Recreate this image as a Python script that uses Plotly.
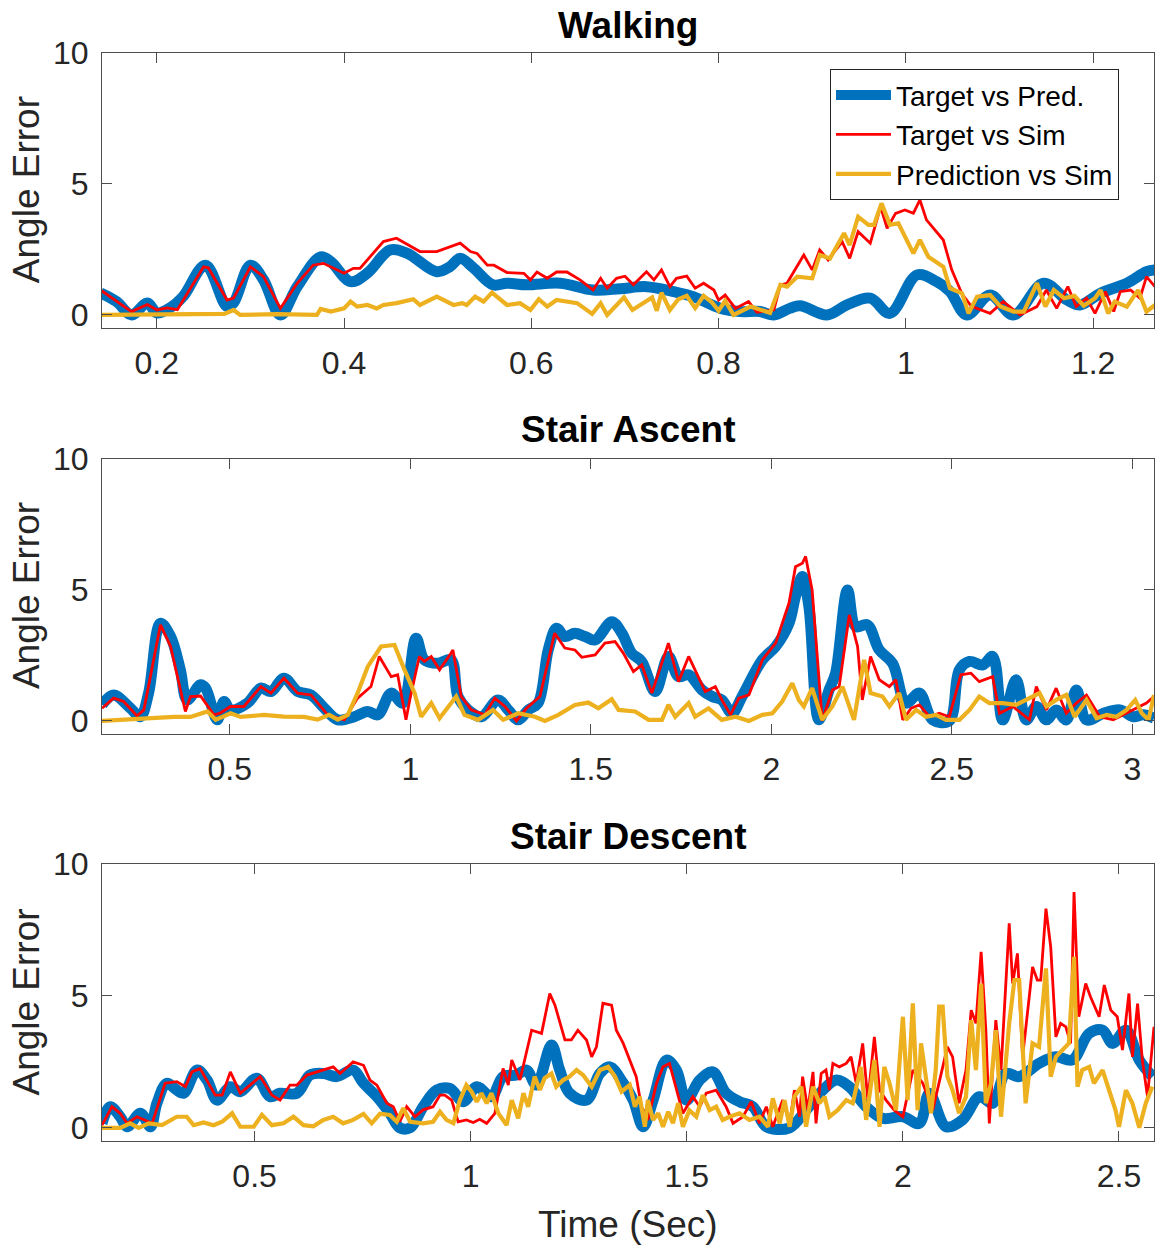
import plotly.graph_objects as go
from plotly.subplots import make_subplots

# ---------------- DATA (time sec, angle error) ----------------
walk_target_pred = [(0.140,0.84),(0.157,0.51),(0.173,0.0),(0.190,0.46),(0.200,0.08),(0.214,0.27),(0.228,0.70),(0.252,1.90),(0.275,0.32),(0.282,0.46),(0.300,1.90),(0.314,1.34),(0.332,0.0),(0.350,1.08),(0.375,2.22),(0.386,2.03),(0.407,1.27),(0.425,1.60),(0.449,2.48),(0.467,2.36),(0.499,1.65),(0.513,1.84),(0.524,2.16),(0.538,1.80),(0.559,1.15),(0.574,1.21),(0.595,1.15),(0.631,1.21),(0.666,0.95),(0.695,1.00),(0.723,1.08),(0.752,0.89),(0.773,0.70),(0.802,0.25),(0.823,0.13),(0.844,0.13),(0.859,0.0),(0.876,0.25),(0.887,0.35),(0.916,0.0),(0.937,0.38),(0.962,0.64),(0.983,0.06),(1.012,1.53),(1.033,1.27),(1.047,0.90),(1.065,0.0),(1.090,0.76),(1.115,0.0),(1.147,1.21),(1.172,0.57),(1.186,0.38),(1.208,0.83),(1.236,1.21),(1.257,1.65),(1.266,1.72)]

walk_target_sim = [(0.140,0.95),(0.173,0.13),(0.190,0.40),(0.200,0.19),(0.211,0.27),(0.222,0.20),(0.250,1.84),(0.255,1.80),(0.275,0.57),(0.282,0.64),(0.300,1.84),(0.314,1.46),(0.332,0.25),(0.350,1.21),(0.367,1.90),(0.378,1.97),(0.400,1.59),(0.410,1.78),(0.417,1.78),(0.442,2.80),(0.456,2.93),(0.481,2.42),(0.499,2.42),(0.524,2.74),(0.535,2.42),(0.542,2.35),(0.553,1.90),(0.560,1.90),(0.574,1.62),(0.592,1.59),(0.599,1.34),(0.606,1.64),(0.617,1.40),(0.627,1.64),(0.638,1.64),(0.652,1.34),(0.666,0.95),(0.674,1.40),(0.681,1.02),(0.691,1.40),(0.700,1.48),(0.709,1.15),(0.723,1.65),(0.731,1.34),(0.739,1.72),(0.748,1.08),(0.755,1.40),(0.766,1.48),(0.775,1.02),(0.784,1.21),(0.795,0.95),(0.800,0.57),(0.807,0.76),(0.818,0.25),(0.832,0.51),(0.841,0.10),(0.859,0.19),(0.866,1.15),(0.873,1.21),(0.891,2.29),(0.900,1.72),(0.908,2.48),(0.917,2.10),(0.932,2.80),(0.940,2.16),(0.949,3.18),(0.962,2.74),(0.973,4.13),(0.980,3.31),(0.989,3.88),(0.999,4.01),(1.008,3.88),(1.015,4.39),(1.022,3.63),(1.040,2.86),(1.049,1.72),(1.060,0.80),(1.070,0.33),(1.090,0.06),(1.104,0.51),(1.122,0.00),(1.140,0.32),(1.150,0.95),(1.161,0.25),(1.173,1.08),(1.182,0.32),(1.193,0.64),(1.202,0.06),(1.213,0.89),(1.222,0.13),(1.229,0.89),(1.240,0.95),(1.250,0.64),(1.257,1.46),(1.266,1.08)]

walk_pred_sim = [(0.140,0.0),(0.200,0.02),(0.272,0.04),(0.282,0.19),(0.289,0.0),(0.328,0.03),(0.371,0.0),(0.375,0.23),(0.386,0.13),(0.400,0.25),(0.407,0.51),(0.414,0.32),(0.425,0.38),(0.435,0.25),(0.442,0.38),(0.456,0.45),(0.474,0.60),(0.481,0.38),(0.499,0.70),(0.513,0.45),(0.517,0.38),(0.526,0.45),(0.531,0.38),(0.540,0.70),(0.549,0.51),(0.558,0.85),(0.574,0.38),(0.588,0.45),(0.599,0.19),(0.608,0.60),(0.617,0.32),(0.627,0.57),(0.649,0.45),(0.665,0.04),(0.674,0.45),(0.681,0.0),(0.699,0.67),(0.708,0.19),(0.720,0.48),(0.729,0.67),(0.734,0.16),(0.739,0.85),(0.748,0.19),(0.757,0.60),(0.766,0.73),(0.775,0.26),(0.784,0.73),(0.793,0.48),(0.800,0.16),(0.807,0.54),(0.816,0.0),(0.834,0.32),(0.855,0.08),(0.866,1.15),(0.873,1.08),(0.884,1.46),(0.900,1.40),(0.908,2.29),(0.919,2.16),(0.934,3.12),(0.940,2.67),(0.949,3.75),(0.960,3.44),(0.966,3.44),(0.974,4.26),(0.983,3.44),(0.992,3.50),(1.008,2.35),(1.015,2.86),(1.024,2.22),(1.040,1.84),(1.047,1.02),(1.060,0.83),(1.067,0.06),(1.076,0.70),(1.090,0.76),(1.101,0.32),(1.115,0.13),(1.126,0.13),(1.140,1.21),(1.149,0.32),(1.158,0.95),(1.169,0.64),(1.180,0.73),(1.190,0.35),(1.202,0.64),(1.208,0.95),(1.216,0.06),(1.223,0.51),(1.236,0.32),(1.248,0.95),(1.257,0.13),(1.266,0.38)]

asc_target_pred = [(0.146,0.62),(0.178,0.99),(0.225,0.48),(0.252,0.16),(0.275,1.06),(0.308,3.73),(0.336,3.22),(0.363,1.95),(0.382,0.80),(0.419,1.38),(0.433,1.25),(0.465,0.04),(0.484,0.74),(0.502,0.42),(0.549,0.68),(0.586,1.25),(0.614,1.12),(0.650,1.63),(0.688,1.12),(0.725,0.99),(0.762,0.48),(0.799,0.04),(0.845,0.16),(0.882,0.36),(0.910,0.23),(0.947,1.06),(0.979,0.68),(1.016,3.16),(1.039,2.33),(1.077,2.20),(1.113,2.33),(1.132,0.93),(1.160,0.42),(1.197,0.16),(1.243,0.80),(1.271,0.42),(1.299,0.04),(1.327,0.42),(1.354,0.68),(1.382,2.71),(1.405,3.54),(1.428,3.22),(1.456,3.35),(1.484,3.22),(1.512,3.09),(1.558,3.79),(1.586,3.35),(1.613,2.59),(1.641,2.27),(1.678,1.12),(1.715,2.46),(1.743,1.69),(1.771,1.76),(1.808,1.18),(1.836,0.93),(1.863,0.80),(1.891,0.29),(1.919,0.93),(1.975,2.33),(2.012,2.84),(2.049,3.73),(2.067,4.75),(2.086,5.51),(2.104,4.37),(2.132,0.04),(2.160,1.18),(2.178,1.82),(2.211,5.00),(2.234,3.60),(2.266,3.67),(2.299,2.71),(2.336,2.20),(2.373,0.68),(2.410,1.06),(2.447,0.04),(2.493,0.0),(2.521,1.95),(2.549,2.27),(2.586,2.14),(2.613,2.46),(2.641,0.04),(2.678,1.57),(2.706,0.04),(2.734,0.55),(2.762,0.04),(2.789,0.42),(2.817,0.04),(2.845,1.18),(2.873,0.04),(2.920,0.29),(2.966,0.42),(3.003,0.16),(3.030,0.23),(3.060,0.10)]

asc_target_sim = [(0.146,0.48),(0.178,0.87),(0.206,0.74),(0.243,0.19),(0.262,0.42),(0.308,3.67),(0.336,2.84),(0.377,0.36),(0.391,0.93),(0.419,0.95),(0.456,0.23),(0.474,0.30),(0.502,0.55),(0.539,0.55),(0.586,1.31),(0.614,1.06),(0.650,1.63),(0.688,1.06),(0.725,0.99),(0.771,0.23),(0.817,0.04),(0.854,0.87),(0.891,1.31),(0.914,2.46),(0.947,1.69),(0.965,1.76),(0.988,0.04),(1.000,0.90),(1.025,2.46),(1.039,2.27),(1.058,2.46),(1.081,1.95),(1.113,2.59),(1.118,2.71),(1.141,0.93),(1.169,0.42),(1.206,0.23),(1.234,0.87),(1.262,0.55),(1.294,0.0),(1.322,0.48),(1.359,0.93),(1.400,3.35),(1.428,2.78),(1.456,2.71),(1.475,2.43),(1.512,2.52),(1.539,2.97),(1.567,3.03),(1.590,2.59),(1.618,1.88),(1.641,2.14),(1.669,1.06),(1.715,2.97),(1.743,1.50),(1.771,2.46),(1.817,1.12),(1.845,1.31),(1.863,0.80),(1.887,0.23),(1.910,0.87),(1.938,0.99),(1.975,2.33),(2.012,2.97),(2.049,4.50),(2.067,5.89),(2.086,6.02),(2.095,6.28),(2.113,5.00),(2.141,0.0),(2.169,1.18),(2.188,1.31),(2.216,4.05),(2.239,2.84),(2.252,0.80),(2.275,2.46),(2.299,1.57),(2.327,1.31),(2.345,1.57),(2.364,0.04),(2.387,0.48),(2.410,0.61),(2.438,0.16),(2.465,0.29),(2.493,0.16),(2.525,1.76),(2.553,1.82),(2.576,1.50),(2.613,1.69),(2.632,0.29),(2.669,0.55),(2.715,0.04),(2.734,1.31),(2.762,0.42),(2.789,1.25),(2.817,0.29),(2.845,0.68),(2.873,0.99),(2.910,0.16),(2.947,0.04),(2.975,0.23),(3.003,0.42),(3.039,0.68),(3.060,0.93)]

asc_pred_sim = [(0.146,0.0),(0.206,0.05),(0.299,0.10),(0.345,0.15),(0.391,0.15),(0.438,0.36),(0.461,0.04),(0.502,0.29),(0.530,0.15),(0.595,0.23),(0.650,0.16),(0.706,0.15),(0.743,0.05),(0.775,0.23),(0.799,0.05),(0.827,0.23),(0.854,1.06),(0.882,2.07),(0.919,2.84),(0.956,2.90),(0.984,1.95),(1.012,1.06),(1.030,0.16),(1.058,0.68),(1.081,0.10),(1.109,0.61),(1.127,0.93),(1.150,0.23),(1.188,0.04),(1.229,0.42),(1.257,0.04),(1.299,0.29),(1.345,0.16),(1.373,0.0),(1.410,0.23),(1.456,0.61),(1.493,0.70),(1.521,0.48),(1.558,0.83),(1.577,0.42),(1.623,0.36),(1.660,0.04),(1.697,0.04),(1.715,0.61),(1.734,0.16),(1.771,0.68),(1.789,0.16),(1.826,0.48),(1.863,0.04),(1.901,0.16),(1.938,0.0),(1.975,0.23),(2.003,0.29),(2.030,0.74),(2.058,1.44),(2.076,0.80),(2.090,0.55),(2.113,1.25),(2.141,0.04),(2.169,0.55),(2.197,1.31),(2.229,0.04),(2.257,2.33),(2.275,1.06),(2.308,0.93),(2.327,0.55),(2.354,1.06),(2.373,0.04),(2.401,0.42),(2.428,0.16),(2.456,0.23),(2.484,0.04),(2.521,0.04),(2.549,0.42),(2.576,0.93),(2.604,0.68),(2.641,0.68),(2.678,0.61),(2.715,0.87),(2.743,1.06),(2.762,0.55),(2.789,0.80),(2.817,0.99),(2.840,0.16),(2.873,0.80),(2.901,0.10),(2.929,0.23),(2.956,0.16),(2.984,0.42),(3.008,0.80),(3.026,0.29),(3.045,0.04),(3.060,0.99)]

desc_target_pred = [(0.147,0.17),(0.166,0.80),(0.189,0.42),(0.205,0.04),(0.236,0.55),(0.259,0.04),(0.274,0.93),(0.297,1.69),(0.320,1.43),(0.336,1.31),(0.367,2.19),(0.390,1.81),(0.413,1.05),(0.444,1.56),(0.467,1.37),(0.505,1.88),(0.536,1.18),(0.559,1.31),(0.598,1.31),(0.628,2.00),(0.659,2.06),(0.690,1.94),(0.728,2.19),(0.752,1.69),(0.783,1.18),(0.813,0.55),(0.836,0.0),(0.860,0.0),(0.890,0.80),(0.921,1.43),(0.952,1.49),(0.983,0.99),(1.014,1.56),(1.048,1.18),(1.075,1.94),(1.106,2.00),(1.129,2.19),(1.152,1.62),(1.187,3.14),(1.206,2.19),(1.229,1.31),(1.268,1.05),(1.299,2.06),(1.322,2.31),(1.353,1.69),(1.376,1.05),(1.399,0.04),(1.422,1.05),(1.453,2.57),(1.476,2.19),(1.499,1.05),(1.530,1.81),(1.560,2.12),(1.591,1.31),(1.622,0.99),(1.653,0.80),(1.684,0.04),(1.738,0.0),(1.776,0.67),(1.815,1.43),(1.846,1.81),(1.876,1.56),(1.915,0.80),(1.953,0.36),(2.000,0.42),(2.038,0.17),(2.061,1.31),(2.100,0.04),(2.138,0.30),(2.177,1.18),(2.208,0.93),(2.238,2.06),(2.269,1.94),(2.315,2.44),(2.354,2.69),(2.392,2.57),(2.431,3.58),(2.462,3.70),(2.485,3.20),(2.516,3.70),(2.547,2.57),(2.578,1.94)]

desc_target_sim = [(0.147,0.10),(0.170,0.80),(0.189,0.55),(0.205,0.17),(0.228,0.42),(0.247,0.30),(0.263,0.17),(0.293,1.69),(0.320,1.75),(0.340,1.56),(0.355,2.12),(0.374,2.25),(0.409,1.24),(0.425,1.24),(0.444,2.12),(0.467,1.31),(0.513,1.94),(0.540,1.24),(0.559,1.05),(0.582,1.62),(0.598,1.62),(0.621,2.00),(0.659,2.19),(0.682,2.31),(0.698,2.06),(0.728,2.50),(0.752,2.37),(0.767,1.81),(0.783,1.62),(0.806,0.93),(0.821,0.80),(0.836,0.23),(0.852,0.80),(0.871,0.42),(0.890,0.68),(0.913,0.80),(0.929,1.24),(0.940,1.24),(0.956,1.05),(0.971,0.23),(0.990,0.30),(1.006,0.20),(1.021,0.32),(1.037,0.17),(1.056,0.55),(1.075,2.25),(1.087,1.62),(1.095,2.57),(1.114,1.81),(1.141,3.70),(1.164,3.58),(1.183,5.09),(1.195,4.65),(1.218,3.33),(1.233,3.33),(1.248,3.70),(1.268,3.33),(1.280,2.69),(1.291,3.07),(1.306,4.72),(1.326,4.65),(1.337,3.70),(1.353,3.20),(1.368,2.57),(1.383,1.94),(1.395,0.80),(1.410,0.30),(1.430,1.69),(1.445,2.31),(1.460,2.44),(1.472,1.69),(1.491,0.55),(1.514,1.18),(1.530,0.80),(1.545,1.31),(1.568,1.43),(1.591,0.80),(1.607,0.17),(1.630,0.42),(1.649,0.99),(1.668,0.17),(1.684,0.80),(1.699,0.04),(1.722,1.05),(1.738,0.17),(1.749,1.43),(1.761,0.42),(1.768,1.94),(1.780,0.67),(1.792,2.12),(1.799,0.17),(1.811,2.06),(1.822,2.19),(1.830,1.43),(1.838,2.44),(1.853,2.31),(1.869,2.44),(1.880,2.69),(1.892,1.69),(1.907,3.20),(1.919,1.05),(1.934,3.45),(1.946,1.43),(1.961,1.05),(1.980,0.67),(2.000,0.42),(2.023,2.19),(2.046,1.69),(2.069,0.67),(2.084,1.69),(2.103,3.07),(2.115,2.69),(2.130,0.93),(2.146,2.19),(2.158,4.46),(2.169,3.96),(2.181,6.67),(2.192,3.70),(2.200,0.17),(2.215,4.08),(2.227,2.19),(2.246,7.75),(2.254,5.47),(2.265,6.61),(2.277,2.69),(2.300,6.10),(2.311,5.60),(2.319,5.60),(2.331,8.31),(2.342,6.86),(2.354,3.45),(2.365,3.96),(2.377,3.83),(2.388,3.20),(2.396,8.94),(2.407,4.21),(2.423,5.47),(2.434,4.97),(2.454,4.21),(2.466,5.41),(2.481,4.46),(2.496,4.21),(2.508,2.95),(2.523,5.09),(2.531,2.69),(2.543,4.71),(2.554,2.57),(2.566,1.18),(2.581,3.83)]

desc_pred_sim = [(0.147,0.0),(0.189,0.0),(0.212,0.17),(0.232,0.0),(0.255,0.17),(0.286,0.10),(0.320,0.42),(0.343,0.42),(0.359,0.10),(0.382,0.20),(0.405,0.10),(0.425,0.23),(0.448,0.55),(0.467,0.04),(0.498,0.04),(0.517,0.49),(0.540,0.10),(0.567,0.17),(0.590,0.42),(0.613,0.10),(0.636,0.06),(0.659,0.30),(0.682,0.42),(0.705,0.17),(0.728,0.30),(0.752,0.53),(0.771,0.17),(0.790,0.53),(0.813,0.49),(0.829,0.23),(0.844,0.74),(0.860,0.23),(0.890,0.17),(0.913,0.23),(0.929,0.61),(0.944,0.30),(0.960,0.17),(0.975,1.05),(0.990,1.62),(1.002,1.37),(1.014,0.99),(1.025,1.31),(1.037,0.93),(1.048,1.31),(1.064,0.55),(1.083,0.10),(1.095,1.05),(1.110,0.36),(1.122,1.31),(1.133,0.80),(1.148,1.94),(1.160,1.43),(1.171,1.88),(1.187,2.06),(1.198,1.56),(1.214,1.81),(1.229,1.94),(1.245,2.19),(1.260,2.00),(1.280,1.56),(1.299,2.19),(1.318,2.31),(1.334,1.94),(1.349,1.37),(1.368,1.62),(1.380,0.80),(1.391,1.18),(1.403,0.04),(1.410,1.05),(1.422,0.30),(1.434,0.55),(1.445,0.04),(1.457,0.61),(1.468,0.17),(1.480,0.93),(1.491,0.04),(1.506,0.67),(1.522,0.42),(1.537,1.24),(1.553,0.67),(1.568,0.80),(1.583,0.30),(1.599,0.42),(1.622,0.55),(1.645,0.30),(1.668,0.42),(1.688,0.04),(1.699,1.12),(1.715,0.17),(1.726,1.05),(1.738,0.04),(1.749,1.18),(1.765,1.56),(1.776,0.04),(1.792,1.56),(1.807,0.93),(1.819,1.18),(1.830,0.42),(1.849,0.67),(1.869,1.05),(1.884,0.93),(1.903,2.31),(1.915,0.30),(1.934,2.57),(1.946,0.04),(1.957,2.31),(1.969,1.69),(1.984,0.67),(2.000,4.21),(2.011,1.05),(2.023,4.72),(2.034,0.67),(2.042,3.20),(2.053,1.94),(2.065,0.55),(2.076,2.19),(2.084,4.59),(2.092,4.59),(2.103,1.94),(2.115,1.43),(2.130,0.55),(2.146,1.18),(2.158,4.08),(2.169,2.19),(2.181,5.47),(2.192,0.93),(2.204,1.69),(2.215,3.70),(2.227,0.42),(2.246,3.96),(2.258,5.60),(2.269,5.60),(2.284,0.93),(2.300,3.20),(2.315,3.07),(2.331,6.04),(2.342,1.94),(2.354,2.69),(2.369,2.95),(2.384,3.20),(2.396,6.48),(2.404,1.56),(2.415,2.19),(2.431,2.31),(2.442,1.69),(2.462,2.19),(2.477,1.43),(2.492,0.67),(2.500,0.04),(2.516,1.43),(2.531,0.93),(2.547,0.0),(2.562,0.93),(2.577,1.56)]

panel_titles = ["Walking", "Stair Ascent", "Stair Descent"]
series_names = ["Target vs Pred.", "Target vs Sim", "Prediction vs Sim"]
x_ranges = [[0.1415, 1.265], [0.146, 3.06], [0.147, 2.581]]
x_tickvals = [[0.2, 0.4, 0.6, 0.8, 1.0, 1.2], [0.5, 1, 1.5, 2, 2.5, 3], [0.5, 1, 1.5, 2, 2.5]]
x_ticktext = [["0.2", "0.4", "0.6", "0.8", "1", "1.2"], ["0.5", "1", "1.5", "2", "2.5", "3"], ["0.5", "1", "1.5", "2", "2.5"]]
y_tickvals = [0, 5, 10]
y_ticktext = ["0", "5", "10"]
y_label = "Angle Error"
x_label = "Time (Sec)"

panels = [
    (walk_target_pred, walk_target_sim, walk_pred_sim),
    (asc_target_pred, asc_target_sim, asc_pred_sim),
    (desc_target_pred, desc_target_sim, desc_pred_sim),
]

# ---------------- FIGURE ----------------
BLUE, RED, YELLOW = "#0072BD", "#FF0000", "#EDB120"
FONT = "Liberation Sans, Arial, Helvetica, sans-serif"
AX = "#4d4d4d"

fig = make_subplots(rows=3, cols=1)
styles = [dict(color=BLUE, width=11, shape="spline"),
          dict(color=RED, width=2.8),
          dict(color=YELLOW, width=4.2)]

for r, series in enumerate(panels, start=1):
    for k, data in enumerate(series):
        xs = [p[0] for p in data]
        ys = [p[1] for p in data]
        fig.add_trace(go.Scatter(x=xs, y=ys, mode="lines", line=styles[k],
                                 name=series_names[k], showlegend=(r == 1)),
                      row=r, col=1)

domains = [[0.7472, 1.0], [0.3741, 0.6268], [0.0, 0.2546]]
for i in range(3):
    sfx = "" if i == 0 else str(i + 1)
    fig.layout["xaxis" + sfx].update(
        range=x_ranges[i], tickvals=x_tickvals[i], ticktext=x_ticktext[i],
        showline=True, linecolor=AX, linewidth=1, mirror="ticks",
        ticks="inside", ticklen=10, tickcolor=AX, tickwidth=1,
        showgrid=False, zeroline=False, ticklabelstandoff=7,
        tickfont=dict(family=FONT, size=32, color="#262626"))
    fig.layout["yaxis" + sfx].update(
        domain=domains[i], range=[-0.5, 10], tickvals=y_tickvals, ticktext=y_ticktext,
        showline=True, linecolor=AX, linewidth=1, mirror="ticks",
        ticks="inside", ticklen=10, tickcolor=AX, tickwidth=1,
        showgrid=False, zeroline=False, ticklabelstandoff=6,
        tickfont=dict(family=FONT, size=32, color="#262626"))

annotations = []
title_y = [1.0257, 0.6535, 0.2803]
ylab_y = [0.874, 0.5009, 0.1273]
for i in range(3):
    annotations.append(dict(text="<b>" + panel_titles[i] + "</b>", xref="paper", yref="paper",
                            x=0.5, y=title_y[i], xanchor="center", yanchor="middle",
                            showarrow=False, font=dict(family=FONT, size=37, color="#000000")))
    annotations.append(dict(text=y_label, xref="paper", yref="paper", textangle=-90,
                            x=-0.0722, y=ylab_y[i], xanchor="center", yanchor="middle",
                            showarrow=False, font=dict(family=FONT, size=37, color="#262626")))
annotations.append(dict(text=x_label, xref="paper", yref="paper", x=0.5, y=-0.0763,
                        xanchor="center", yanchor="middle", showarrow=False,
                        font=dict(family=FONT, size=37, color="#262626")))

fig.update_layout(
    width=1157, height=1247,
    margin=dict(l=102, r=3, t=53, b=106),
    plot_bgcolor="white", paper_bgcolor="white",
    annotations=annotations,
    legend=dict(x=0.692, y=0.985, xanchor="left", yanchor="top",
                bgcolor="white", bordercolor="#262626", borderwidth=1,
                font=dict(family=FONT, size=28, color="#000000"),
                itemwidth=55, tracegroupgap=0),
)

fig.write_html("out.html", config={"displayModeBar": False},
               post_script="document.body.style.margin='0px';document.body.style.overflow='hidden';")
